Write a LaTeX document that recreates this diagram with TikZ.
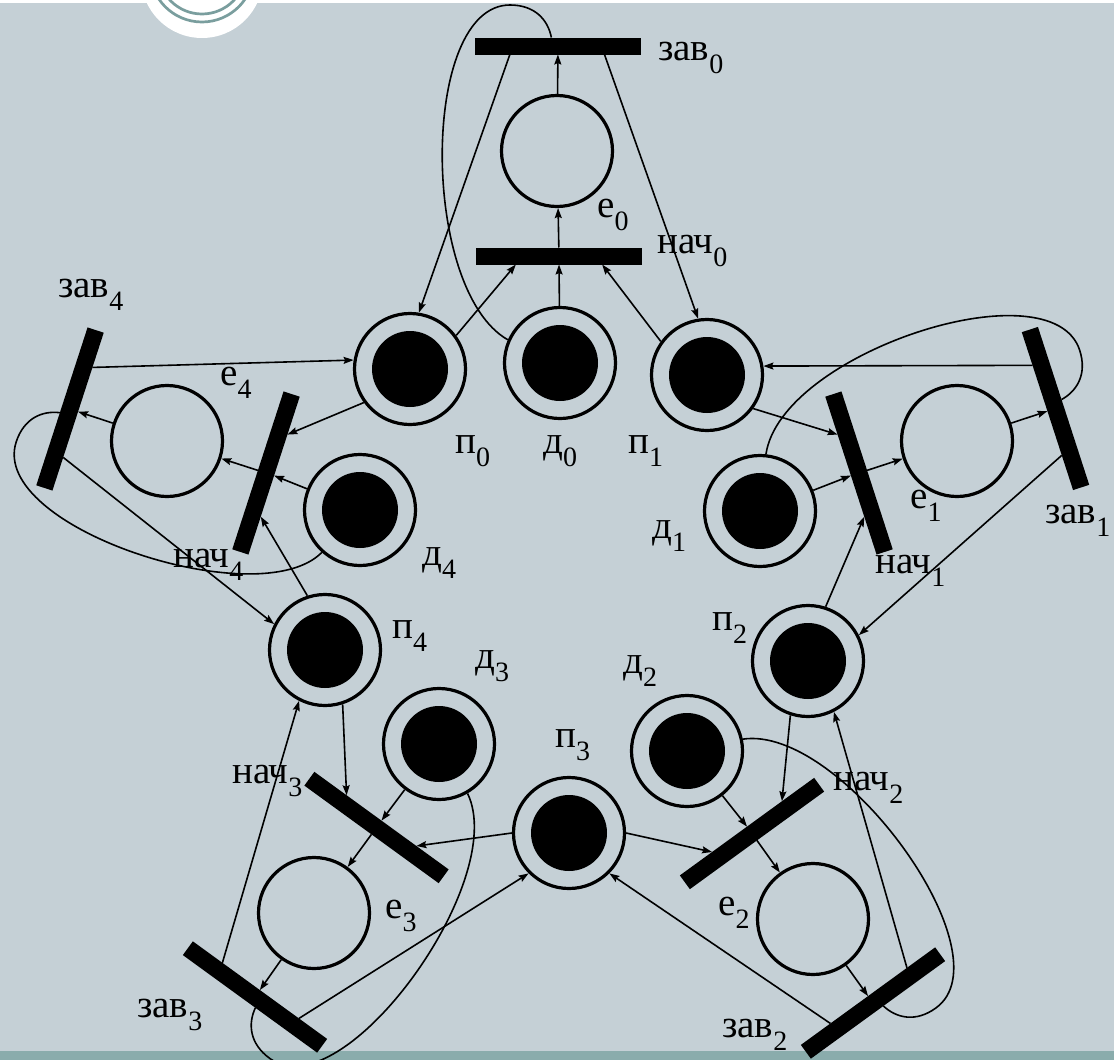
\documentclass[tikz,border=0pt]{standalone}
\usepackage{fontspec}
\setmainfont{Liberation Serif}
\usetikzlibrary{calc,arrows.meta}
\definecolor{bgcol}{RGB}{197,208,214}
\definecolor{bandcol}{RGB}{138,172,172}
\definecolor{ringcol}{RGB}{122,158,158}
\newcommand\lblsub[1]{\raisebox{-13pt}{\fontsize{28}{28}\selectfont #1}}
\begin{document}
\begin{tikzpicture}[x=1pt,y=-1pt,
  emptyplace/.style={circle,draw=black,line width=3.2pt,minimum size=111pt,inner sep=0pt},
  tokenplace/.style={emptyplace,path picture={\fill[black] (path picture bounding box.center) circle (38pt);}},
  barbox/.style={rectangle,fill=black,minimum width=166pt,minimum height=17pt,inner sep=0pt,outer sep=0pt},
  arr/.style={line width=1.6pt,-{Stealth[length=10pt,width=7pt,inset=1.5pt]}},
  readarc/.style={line width=1.6pt},
  lbl/.style={inner sep=0pt,anchor=base west,font=\fontsize{39}{40}\selectfont}]
\useasboundingbox (0,0) rectangle (1114,1060);
\begin{scope}
\clip (0,0) rectangle (1114,1060);
\fill[bgcol] (0,0) rectangle (1114,1060);
\fill[bandcol] (0,1051) rectangle (1114,1060);
\fill[white] (0,0) rectangle (1114,3);
\fill[white] (202,-23) circle (61pt);
\draw[ringcol,line width=2.7pt] (202,-30) circle (52pt);
\draw[ringcol,line width=2.7pt] (202,-30) circle (44pt);
\end{scope}

% arm 0 (top)
\node[barbox] (zav0) at (558,46) {};
\node[emptyplace] (e0) at (557,151) {};
\node[barbox] (nach0) at (559,256) {};
\node[tokenplace] (d0) at (560,363) {};
\node[tokenplace] (p0) at (410,369) {};
\node[tokenplace] (p1) at (707,375) {};
% arm 1 (right)
\node[barbox,rotate=-72] (nach1) at (859,473) {};
\node[emptyplace] (e1) at (957,441) {};
\node[barbox,rotate=-72] (zav1) at (1055.5,408.5) {};
\node[tokenplace] (d1) at (760,511) {};
\node[tokenplace] (p2) at (808,661) {};
% arm 2 (bottom right)
\node[barbox,rotate=-144] (nach2) at (752,833.5) {};
\node[emptyplace] (e2) at (813,919) {};
\node[barbox,rotate=-144] (zav2) at (873,1003) {};
\node[tokenplace] (d2) at (687,751) {};
\node[tokenplace] (p3) at (569,833) {};
% arm 3 (bottom left)
\node[barbox,rotate=-216] (nach3) at (376.5,827.5) {};
\node[emptyplace] (e3) at (314,913) {};
\node[barbox,rotate=-216] (zav3) at (255,997) {};
\node[tokenplace] (d3) at (439,744) {};
\node[tokenplace] (p4) at (325,650) {};
% arm 4 (left)
\node[barbox,rotate=-288] (nach4) at (266,473) {};
\node[emptyplace] (e4) at (167,441) {};
\node[barbox,rotate=-288] (zav4) at (70,409) {};
\node[tokenplace] (d4) at (360,510) {};

\foreach \i in {0,...,4}{
  \pgfmathtruncatemacro\j{mod(\i+1,5)}
  \pgfmathtruncatemacro\aA{36-72*\i}
  \pgfmathtruncatemacro\aB{144-72*\i}
  \pgfmathtruncatemacro\aC{81-72*\i}
  \pgfmathtruncatemacro\aD{99-72*\i}
  \pgfmathtruncatemacro\aE{156-72*\i}
  \draw[arr] (p\i.\aA) -- ($(nach\i.south west)!0.24!(nach\i.south east)$);
  \draw[arr] (d\i) -- (nach\i.south);
  \draw[arr] (p\j.\aB) -- ($(nach\i.south west)!0.76!(nach\i.south east)$);
  \draw[arr] (nach\i) -- (e\i);
  \draw[arr] (e\i) -- (zav\i);
  \draw[arr] ($(zav\i.south west)!0.21!(zav\i.south east)$) -- (p\i.\aC);
  \draw[arr] ($(zav\i.south west)!0.78!(zav\i.south east)$) -- (p\j.\aD);
  \begin{scope}[shift={(zav\i.center)},rotate=-72*\i]
    \draw[readarc] (d\i.\aE) .. controls (-138,244) and (-138,-41) .. (-48,-41)
      .. controls (-23,-41) and (-10,-26) .. ($(zav\i.north west)!0.46!(zav\i.north east)$);
  \end{scope}
}

% labels
\node[lbl] (lzav0) at (658,60) {зав\lblsub{0}};
\node[lbl] (le0) at (597,217) {е\lblsub{0}};
\node[lbl] (lnach0) at (657,253) {нач\lblsub{0}};
\node[lbl] (lp0) at (455,453) {п\lblsub{0}};
\node[lbl] (ld0) at (543,453) {д\lblsub{0}};
\node[lbl] (lp1) at (628,453) {п\lblsub{1}};
\node[lbl] (lzav4) at (58,297) {зав\lblsub{4}};
\node[lbl] (le4) at (220,385) {е\lblsub{4}};
\node[lbl] (lnach4) at (173,567) {нач\lblsub{4}};
\node[lbl] (ld4) at (422,565) {д\lblsub{4}};
\node[lbl] (lp4) at (392,638) {п\lblsub{4}};
\node[lbl] (ld3) at (475,668) {д\lblsub{3}};
\node[lbl] (lp3) at (555,747) {п\lblsub{3}};
\node[lbl] (lnach3) at (232,783) {нач\lblsub{3}};
\node[lbl] (le3) at (385,918) {е\lblsub{3}};
\node[lbl] (lzav3) at (137,1017) {зав\lblsub{3}};
\node[lbl] (le2) at (718,915) {е\lblsub{2}};
\node[lbl] (lzav2) at (722,1037) {зав\lblsub{2}};
\node[lbl] (lnach2) at (833,790) {нач\lblsub{2}};
\node[lbl] (ld2) at (623,673) {д\lblsub{2}};
\node[lbl] (lp2) at (712,630) {п\lblsub{2}};
\node[lbl] (lnach1) at (875,573) {нач\lblsub{1}};
\node[lbl] (le1) at (910,508) {е\lblsub{1}};
\node[lbl] (lzav1) at (1045,523) {зав\lblsub{1}};
\node[lbl] (ld1) at (652,538) {д\lblsub{1}};
\end{tikzpicture}
\end{document}
